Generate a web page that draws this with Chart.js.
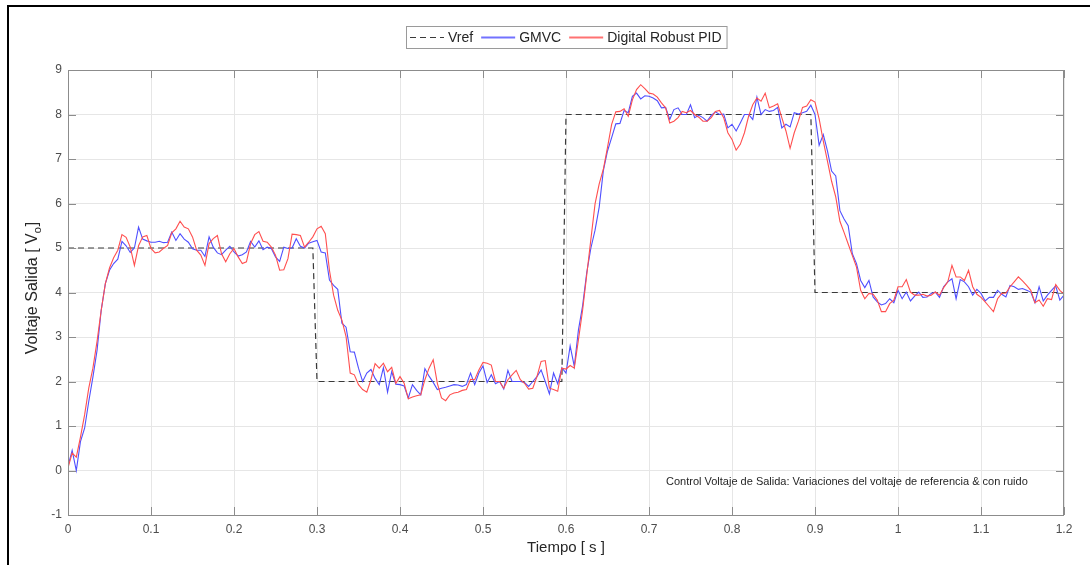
<!DOCTYPE html>
<html>
<head>
<meta charset="utf-8">
<script src="https://cdn.jsdelivr.net/npm/chart.js@4/dist/chart.umd.min.js"></script>
<style>
  html, body { margin: 0; padding: 0; background: #fff; }
  canvas { display: block; }
</style>
</head>
<body>
<canvas id="c" width="1090" height="565"></canvas>
<script>
// Sampling interval of the simulated responses [s]
const sampleStep = 0.005;

// GMVC controller output voltage, one value per sample
const gmvc = [
  0.10, 0.45, 0.00, 0.65, 0.95, 1.55, 2.10, 2.70, 3.60, 4.20,
  4.50, 4.65, 4.75, 5.15, 5.05, 4.90, 5.00, 5.47, 5.20, 5.16,
  5.13, 5.13, 5.15, 5.12, 5.13, 5.36, 5.17, 5.32, 5.20, 5.13,
  4.98, 4.95, 4.95, 4.81, 5.25, 5.02, 4.89, 4.85, 4.95, 5.04,
  4.91, 4.82, 4.85, 4.91, 5.15, 5.02, 5.16, 4.96, 5.02, 4.99,
  4.80, 4.70, 5.02, 4.99, 5.00, 5.21, 5.04, 5.00, 5.11, 5.14,
  5.17, 4.91, 4.89, 4.28, 4.16, 4.07, 3.31, 3.22, 2.67, 2.66,
  2.30, 2.00, 2.19, 2.27, 2.07, 1.93, 2.31, 1.76, 2.22, 1.94,
  1.93, 1.90, 1.63, 1.93, 1.80, 1.70, 2.29, 2.12, 1.98, 1.82,
  1.85, 1.87, 1.90, 1.93, 1.92, 1.89, 1.93, 2.19, 1.93, 2.19,
  2.35, 1.98, 2.15, 1.95, 2.00, 1.83, 2.25, 2.00, 2.00, 2.00,
  1.98, 1.89, 2.00, 2.11, 2.26, 2.00, 1.72, 2.19, 1.95, 2.31,
  2.19, 2.80, 2.34, 3.16, 3.70, 4.45, 5.00, 5.40, 5.92, 6.74,
  7.18, 7.48, 7.79, 7.80, 8.09, 8.04, 8.41, 8.48, 8.35, 8.42,
  8.41, 8.37, 8.31, 8.15, 8.16, 7.89, 8.11, 8.15, 8.00, 8.00,
  8.22, 7.93, 7.98, 7.93, 7.85, 7.98, 8.06, 8.00, 8.01, 7.70,
  7.78, 7.63, 7.81, 8.00, 8.00, 7.89, 8.39, 8.00, 8.11, 8.07,
  8.09, 8.16, 7.70, 7.78, 7.72, 8.04, 8.01, 8.04, 8.07, 8.21,
  8.00, 7.31, 7.55, 7.18, 6.73, 6.62, 5.84, 5.65, 5.50, 4.87,
  4.65, 4.27, 4.11, 4.27, 3.90, 3.79, 3.72, 3.75, 3.86, 3.77,
  4.05, 3.86, 4.01, 3.81, 3.92, 4.01, 3.89, 3.90, 3.98, 4.01,
  3.89, 4.13, 4.24, 4.31, 3.86, 4.29, 4.24, 4.13, 3.94, 4.07,
  3.98, 3.81, 3.89, 3.89, 4.05, 3.96, 3.90, 4.16, 4.13, 4.07,
  4.09, 4.05, 4.01, 3.77, 4.13, 3.81, 3.94, 4.05, 4.15, 3.83,
  3.94
];

// Digital robust PID controller output voltage, one value per sample
const pid = [
  0.06, 0.39, 0.30, 0.75, 1.25, 1.85, 2.30, 2.90, 3.60, 4.20,
  4.55, 4.78, 4.95, 5.30, 5.24, 5.02, 4.61, 5.05, 5.25, 5.28,
  4.99, 4.89, 4.91, 4.99, 5.06, 5.34, 5.43, 5.60, 5.47, 5.43,
  5.25, 4.95, 4.84, 4.61, 5.10, 5.21, 5.28, 4.87, 4.69, 4.87,
  4.99, 4.80, 4.65, 4.69, 5.10, 5.30, 5.37, 5.15, 5.13, 5.02,
  4.84, 4.50, 4.51, 4.76, 5.31, 5.30, 5.28, 5.02, 5.13, 5.25,
  5.43, 5.49, 5.32, 4.50, 3.94, 3.60, 3.38, 3.01, 2.19, 2.15,
  1.93, 1.82, 1.76, 2.04, 2.40, 2.30, 2.41, 2.22, 2.32, 1.96,
  2.11, 1.96, 1.61, 1.65, 1.68, 1.70, 2.04, 2.30, 2.49, 1.96,
  1.63, 1.57, 1.70, 1.74, 1.76, 1.80, 1.82, 2.05, 2.04, 2.26,
  2.43, 2.41, 2.37, 2.00, 2.00, 1.85, 2.04, 2.15, 2.25, 2.04,
  1.96, 1.83, 1.85, 2.11, 2.45, 2.47, 1.85, 1.82, 1.78, 2.30,
  2.28, 2.36, 2.30, 2.94, 3.60, 4.40, 5.20, 5.99, 6.44, 6.77,
  7.26, 7.78, 8.06, 8.07, 8.13, 7.96, 8.33, 8.56, 8.67, 8.58,
  8.48, 8.46, 8.39, 8.26, 8.15, 7.81, 7.85, 7.93, 8.07, 8.04,
  8.09, 8.00, 7.94, 7.85, 7.85, 7.93, 8.07, 8.09, 7.93, 7.59,
  7.44, 7.20, 7.33, 7.59, 7.96, 8.22, 8.37, 8.30, 8.48, 8.15,
  8.19, 8.24, 7.93, 7.63, 7.24, 7.59, 7.85, 8.16, 8.19, 8.33,
  8.28, 7.90, 7.40, 6.95, 6.50, 6.15, 5.60, 5.35, 5.09, 4.83,
  4.57, 4.05, 3.86, 3.98, 3.96, 3.83, 3.57, 3.57, 3.75, 3.83,
  4.13, 4.13, 4.29, 4.01, 3.94, 3.94, 3.96, 3.92, 3.94, 4.01,
  3.94, 4.11, 4.24, 4.61, 4.35, 4.35, 4.27, 4.50, 4.13, 3.96,
  3.89, 3.79, 3.68, 3.57, 3.86, 3.98, 3.99, 4.13, 4.24, 4.35,
  4.26, 4.16, 4.05, 3.77, 3.83, 3.69, 3.86, 3.84, 4.18, 4.05,
  3.96
];

// Reference voltage: step changes at 0.3, 0.6 and 0.9 s
const vrefTime  = [0, 0.295, 0.3, 0.595, 0.6, 0.895, 0.9, 1.2];
const vrefValue = [5, 5, 2, 2, 8, 8, 4, 4];

// Axis ticks
const xTickValues = [0, 0.1, 0.2, 0.3, 0.4, 0.5, 0.6, 0.7, 0.8, 0.9, 1.0, 1.1, 1.2];
const xTickLabels = ['0', '0.1', '0.2', '0.3', '0.4', '0.5', '0.6', '0.7', '0.8', '0.9', '1', '1.1', '1.2'];
const yTickValues = [-1, 0, 1, 2, 3, 4, 5, 6, 7, 8, 9];
const yTickLabels = ['-1', '0', '1', '2', '3', '4', '5', '6', '7', '8', '9'];

// Series names, colours and dash patterns
const seriesNames  = ['Vref', 'GMVC', 'Digital Robust PID'];
const seriesColors = ['#3a3a3a', '#4f4fff', '#ff4f4f'];
const seriesDashes = [[6, 4], [], []];

// Texts
const xTitle = 'Tiempo [ s ]';
const yTitleMain = 'Voltaje Salida [ V';
const yTitleSub = 'o';
const yTitleEnd = ']';
const noteText = 'Control Voltaje de Salida: Variaciones del voltaje de referencia & con ruido';

const FONT = '"Liberation Sans", Arial, Helvetica, sans-serif';
const AXIS_GRAY = '#8c8c8c';
const TEXT_DARK = '#262626';

const toPoints = (values) => values.map((v, i) => ({ x: +(i * sampleStep).toFixed(3), y: v }));
const vrefPoints = vrefTime.map((t, i) => ({ x: t, y: vrefValue[i] }));

// Outer frame lines (top and left edge of the figure)
const framePlugin = {
  id: 'frame',
  beforeDraw(chart) {
    const ctx = chart.ctx;
    ctx.save();
    ctx.fillStyle = '#ffffff';
    ctx.fillRect(0, 0, chart.width, chart.height);
    ctx.fillStyle = '#000000';
    ctx.fillRect(7, 5, chart.width - 7, 2);
    ctx.fillRect(7, 5, 2, chart.height - 5);
    ctx.restore();
  }
};

// Axes box with inward tick marks on all four sides
const boxPlugin = {
  id: 'axesBox',
  afterDatasetsDraw(chart) {
    const { ctx, chartArea: a, scales } = chart;
    const L = 8;
    ctx.save();
    ctx.strokeStyle = AXIS_GRAY;
    ctx.lineWidth = 1;
    ctx.beginPath();
    xTickValues.forEach((v) => {
      const px = Math.round(scales.x.getPixelForValue(v)) + 0.5;
      ctx.moveTo(px, a.bottom); ctx.lineTo(px, a.bottom - L);
      ctx.moveTo(px, a.top); ctx.lineTo(px, a.top + L);
    });
    yTickValues.forEach((v) => {
      const py = Math.round(scales.y.getPixelForValue(v)) + 0.5;
      ctx.moveTo(a.left, py); ctx.lineTo(a.left + L, py);
      ctx.moveTo(a.right, py); ctx.lineTo(a.right - L, py);
    });
    ctx.stroke();
    ctx.strokeRect(Math.round(a.left) + 0.5, Math.round(a.top) + 0.5,
                   Math.round(a.right - a.left) - 1, Math.round(a.bottom - a.top));
    ctx.restore();
  }
};

// Legend box, y-axis title with subscript, and the note inside the axes
const textPlugin = {
  id: 'extraText',
  afterDraw(chart) {
    const { ctx, chartArea: a } = chart;
    ctx.save();

    // legend
    ctx.font = '14px ' + FONT;
    ctx.textBaseline = 'middle';
    const lineW = 34, gapLT = 4, gapItem = 8, padL = 3, padR = 6;
    const widths = seriesNames.map((n) => ctx.measureText(n).width);
    let total = padL + padR;
    widths.forEach((w, i) => { total += lineW + gapLT + w + (i < widths.length - 1 ? gapItem : 0); });
    const bx = Math.round((a.left + a.right) / 2 - total / 2) + 0.5;
    const by = 26.5, bh = 22, cy = 37;
    ctx.fillStyle = '#ffffff';
    ctx.fillRect(bx, by, total, bh);
    ctx.strokeStyle = '#9a9a9a';
    ctx.lineWidth = 1;
    ctx.strokeRect(bx, by, total, bh);
    let x = Math.round(bx + padL);
    seriesNames.forEach((name, i) => {
      // sample line: dashes or a solid segment, in the series colour
      const dash = seriesDashes[i];
      if (dash.length) {
        ctx.fillStyle = seriesColors[i];
        for (let d = 0; d < lineW; d += dash[0] + dash[1]) {
          ctx.fillRect(x + d, cy, Math.min(dash[0], lineW - d), 1);
        }
      } else {
        ctx.fillStyle = seriesColors[i];
        ctx.globalAlpha = 0.8;
        ctx.fillRect(x, cy - 0.5, lineW, 2);
        ctx.globalAlpha = 1;
      }
      x += lineW + gapLT;
      ctx.fillStyle = TEXT_DARK;
      ctx.textAlign = 'left';
      ctx.fillText(name, x, cy + 1);
      x += widths[i] + gapItem;
    });

    // y-axis title with subscript
    const big = '16px ' + FONT, small = '11px ' + FONT;
    ctx.font = big; const w1 = ctx.measureText(yTitleMain).width; const w3 = ctx.measureText(yTitleEnd).width;
    ctx.font = small; const w2 = ctx.measureText(yTitleSub).width;
    const tw = w1 + w2 + w3 + 1;
    ctx.translate(33, 288);
    ctx.rotate(-Math.PI / 2);
    ctx.fillStyle = TEXT_DARK;
    ctx.textAlign = 'left';
    ctx.textBaseline = 'middle';
    ctx.font = big; ctx.fillText(yTitleMain, -tw / 2, 0);
    ctx.font = small; ctx.fillText(yTitleSub, -tw / 2 + w1, 5);
    ctx.font = big; ctx.fillText(yTitleEnd, -tw / 2 + w1 + w2 + 1, 0);
    ctx.setTransform(1, 0, 0, 1, 0, 0);

    // note
    ctx.font = '11px ' + FONT;
    ctx.fillStyle = TEXT_DARK;
    ctx.textAlign = 'left';
    ctx.textBaseline = 'middle';
    ctx.fillText(noteText, 666, 482);
    ctx.restore();
  }
};

new Chart(document.getElementById('c'), {
  type: 'line',
  data: {
    datasets: [
      {
        label: seriesNames[0], data: vrefPoints, borderColor: seriesColors[0], borderWidth: 1.2,
        borderDash: seriesDashes[0], pointRadius: 0, tension: 0, order: 2
      },
      {
        label: seriesNames[1], data: toPoints(gmvc), borderColor: seriesColors[1], borderWidth: 1.1,
        pointRadius: 0, tension: 0, order: 1
      },
      {
        label: seriesNames[2], data: toPoints(pid), borderColor: seriesColors[2], borderWidth: 1.1,
        pointRadius: 0, tension: 0, order: 0
      }
    ]
  },
  options: {
    responsive: false,
    animation: false,
    devicePixelRatio: 1,
    layout: { padding: { top: 70, right: 26, left: 0, bottom: 0 } },
    plugins: { legend: { display: false }, tooltip: { enabled: false } },
    scales: {
      x: {
        type: 'linear', min: 0, max: 1.2,
        afterBuildTicks: (s) => { s.ticks = xTickValues.map((v) => ({ value: v })); },
        afterFit: (s) => { s.height = 50; },
        grid: { color: '#e6e6e6', lineWidth: 1, drawTicks: false },
        border: { display: false },
        ticks: {
          autoSkip: false, maxRotation: 0, padding: 7, color: '#4d4d4d',
          font: { family: FONT, size: 12 },
          callback: (v, i) => xTickLabels[i]
        },
        title: {
          display: true, text: xTitle, color: TEXT_DARK,
          font: { family: FONT, size: 15 }, padding: { top: 0, bottom: 8 }
        }
      },
      y: {
        min: -1, max: 9,
        afterBuildTicks: (s) => { s.ticks = yTickValues.map((v) => ({ value: v })); },
        afterFit: (s) => { s.width = 68; },
        grid: { color: '#e6e6e6', lineWidth: 1, drawTicks: false },
        border: { display: false },
        ticks: {
          autoSkip: false, padding: 6, color: '#4d4d4d',
          font: { family: FONT, size: 12 },
          callback: (v, i) => yTickLabels[i]
        }
      }
    }
  },
  plugins: [framePlugin, boxPlugin, textPlugin]
});
</script>
</body>
</html>
